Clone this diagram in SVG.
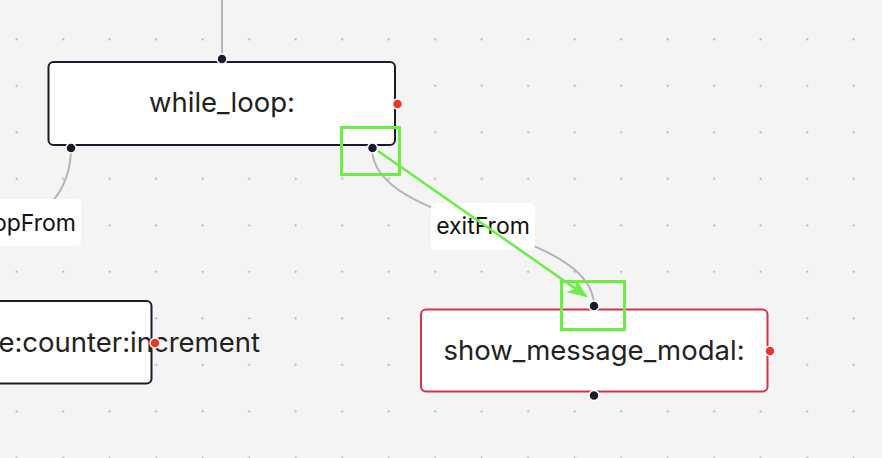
<svg xmlns="http://www.w3.org/2000/svg" width="882" height="458" viewBox="0 0 882 458">
<style>
.bg{fill:#f4f4f4}
.node{fill:#ffffff;stroke:#1c1b2e;stroke-width:2}
.node.err{stroke:#cf3448}
.lbl{font-family:Inter,"Liberation Sans",sans-serif;font-size:27.5px;fill:#222222;text-anchor:middle}
.elbl{font-family:Inter,"Liberation Sans",sans-serif;font-size:23px;fill:#111111;text-anchor:middle}
.ebox{fill:#ffffff}
.edge{fill:none;stroke:#b5b5b5;stroke-width:2}
.h{fill:#1c1b2e;stroke:#ffffff;stroke-width:1.5}
.hr{fill:#e8372a;stroke:#ffffff;stroke-width:1.5}
.sel{fill:none;stroke:#6ced45;stroke-width:3}
</style>
<defs>
<pattern id="dots" patternUnits="userSpaceOnUse" x="-6.55" y="16.05" width="46.5" height="46.5">
<circle cx="23.25" cy="23.25" r="1" fill="#a0a0a0"/>
</pattern>
<marker id="arr" viewBox="0 0 20 20" refX="18" refY="10" markerWidth="20" markerHeight="20" markerUnits="userSpaceOnUse" orient="auto">
<path d="M0,2 L20,10 L0,18 L5,10 Z" fill="#6ced45"/>
</marker>
</defs>
<rect class="bg" x="0" y="0" width="882" height="458"/>
<rect x="0" y="0" width="882" height="458" fill="url(#dots)"/>
<g id="edges">
<path class="edge" d="M222,0 L222,59"/>
<path class="edge" d="M71,148 C71,172 64,188 52,202 L30,225"/>
<path class="edge" d="M372,148 C372,228 594,226 594,306"/>
<g id="edge-label-loopFrom">
<rect class="ebox" x="-10" y="199" width="91" height="47" rx="5"/>
<text class="elbl" x="76" y="231" style="text-anchor:end">opFrom</text>
</g>
<g id="edge-label-exitFrom">
<rect class="ebox" x="431" y="203" width="104" height="47" rx="5"/>
<text class="elbl" x="483" y="234">exitFrom</text>
</g>
</g>
<g id="node-while_loop">
<rect class="node" x="48.5" y="62" width="346.5" height="83" rx="5"/>
<text class="lbl" x="222" y="112">while_loop:</text>
<circle class="h" cx="222" cy="59" r="5"/>
<circle class="h" cx="71" cy="148" r="5"/>
<circle class="h" cx="372.5" cy="148" r="5"/>
<circle class="hr" cx="397.5" cy="104" r="5"/>
</g>
<g id="node-counter">
<rect class="node" x="-20" y="301" width="171.5" height="82.5" rx="5"/>
<text class="lbl" x="260" y="352" style="text-anchor:end">e:counter:increment</text>
<circle class="hr" cx="155" cy="343" r="5"/>
</g>
<g id="node-show_message_modal">
<rect class="node err" x="421" y="309.5" width="346.5" height="82" rx="5"/>
<text class="lbl" x="594" y="360">show_message_modal:</text>
<circle class="h" cx="594" cy="306" r="5"/>
<circle class="h" cx="594" cy="395.5" r="5"/>
<circle class="hr" cx="770" cy="351" r="5"/>
</g>
<g id="annotation">
<rect class="sel" x="341.5" y="127.5" width="58" height="47"/>
<rect class="sel" x="561.5" y="281.5" width="63" height="48"/>
<path d="M378,151 L586,296" fill="none" stroke="#6ced45" stroke-width="2.5" marker-end="url(#arr)"/>
</g>
</svg>
